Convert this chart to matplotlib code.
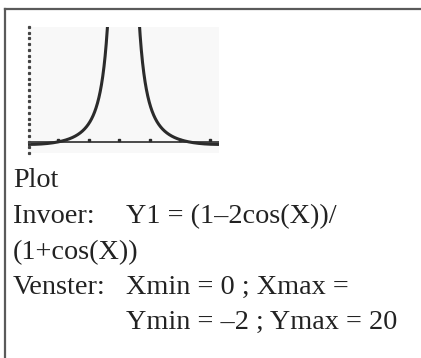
import numpy as np
import matplotlib
matplotlib.use("Agg")
import matplotlib.pyplot as plt
from matplotlib.lines import Line2D

plt.rcParams["font.family"] = ["Liberation Serif", "DejaVu Serif"]

# venster van de rekenmachine
x_min, x_max = 0, 2 * np.pi
y_min, y_max = -2, 20
x_ticks = [1, 2, 3, 4, 5, 6]
y_ticks = list(range(-2, 21))

# tekstregels onder het schermpje
label_lines = ["Plot", "Invoer:", "(1+cos(X))", "Venster:"]
formula_lines = ["Y1 = (1–2cos(X))/", "Xmin = 0 ; Xmax =", "Ymin = –2 ; Ymax = 20"]

W, H = 421, 358
fig = plt.figure(figsize=(W / 100, H / 100), dpi=100)
fig.patch.set_facecolor("white")


def px(x, y):
    # pixel (van linksboven) -> figuurcoordinaten
    return x / W, 1 - y / H


# kader: alleen boven- en linkerrand zichtbaar
frame_col = "#5a5a5a"
fig.add_artist(Line2D([5 / W, 1], [1 - 9 / H, 1 - 9 / H], color=frame_col, lw=1.6))
fig.add_artist(Line2D([5 / W, 5 / W], [1 - 9 / H, 0], color=frame_col, lw=1.6))

# scherm van de GR
left, top, right, bottom = 28, 27, 219, 153
ax = fig.add_axes([left / W, 1 - bottom / H, (right - left) / W, (bottom - top) / H])
ax.set_facecolor("#f8f8f8")
for s in ax.spines.values():
    s.set_visible(False)
ax.set_xticks([])
ax.set_yticks([])
ax.set_xlim(x_min, x_max)
ax.set_ylim(y_min, y_max)

curve_col = "#2b2b2b"
X = np.linspace(x_min, x_max, 1200)
Y1 = (1 - 2 * np.cos(X)) / (1 + np.cos(X))
Y1[Y1 > 60] = np.nan
ax.plot(X, Y1, color=curve_col, lw=2.2, solid_capstyle="butt")

# assen
ax.axhline(0, color=curve_col, lw=1.2)
ax.plot(x_ticks, [0.35] * len(x_ticks), "s", ms=1.8, color=curve_col)
ax.plot([0.03] * len(y_ticks), y_ticks, "s", ms=1.3, color="#444444", clip_on=False)

# tekst
txt_col = "#222222"
fs = 20.3
baselines = [187, 223, 259, 294, 329]
for i, s in enumerate(label_lines):
    fig.text(*px(13, baselines[i]), s, fontsize=fs, color=txt_col, va="baseline", ha="left")
for s, b in zip(formula_lines, [baselines[1], baselines[3], baselines[4]]):
    fig.text(*px(126, b), s, fontsize=fs, color=txt_col, va="baseline", ha="left")

fig.savefig("out.png", dpi=100)
